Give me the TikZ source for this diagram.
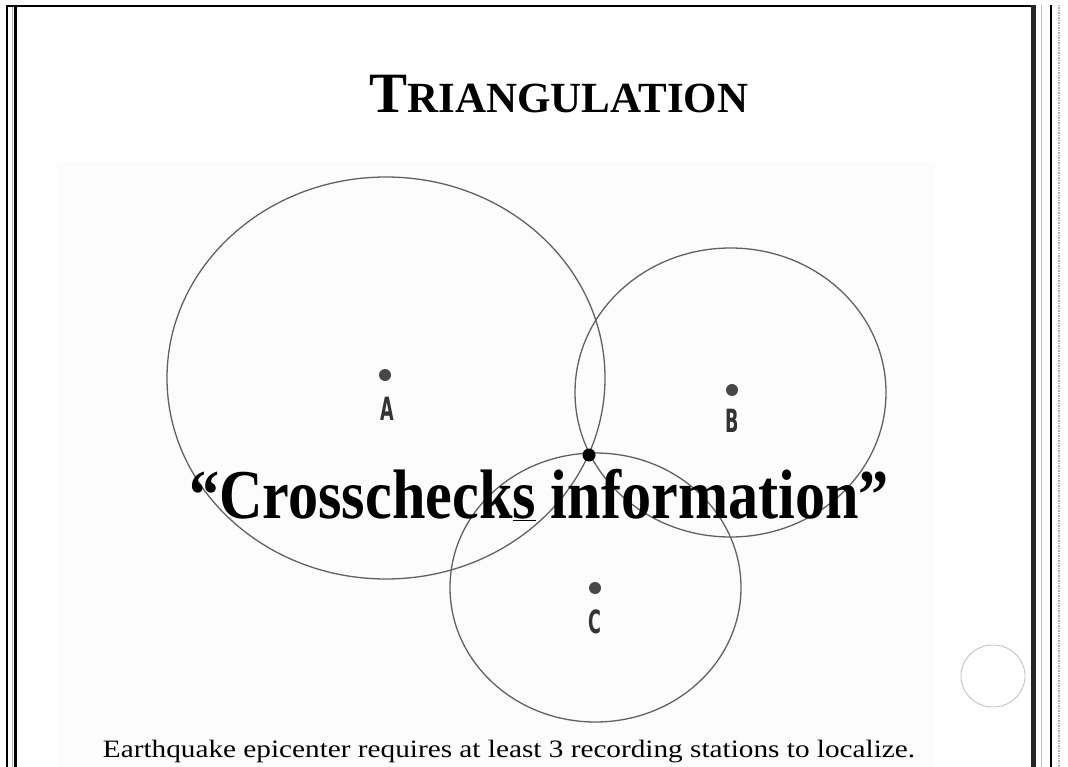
\documentclass[tikz,border=0pt]{standalone}
\usepackage{fontspec}
\setmainfont{Liberation Serif}
\newfontfamily\stationfont{DejaVu Sans}
\tikzset{
  ring/.style = {draw = black!62, line width = 1.3pt},
  station/.style = {circle, fill = black!72, inner sep = 0pt, minimum size = 12pt},
  stationlabel/.style = {font = \stationfont\bfseries\fontsize{32}{32}\selectfont, text = black!80, xscale = 0.55, inner sep = 0pt},
  epicenter/.style = {circle, fill = black, inner sep = 0pt, minimum size = 13pt}
}
\begin{document}
\begin{tikzpicture}[x = 1pt, y = -1pt]
\useasboundingbox (0,0) rectangle (1068,767);
\fill[white] (0,0) rectangle (1068,767);
% the picture behind
\fill[black!1] (57,162) rectangle (935,767);
% slide frame
\draw[line width = 2pt] (6,6) -- (1036,6);
\draw[line width = 1.6pt] (7,6) -- (7,767);
\draw[black!30, line width = 1pt] (12,7) -- (12,767);
\draw[line width = 3pt] (15.5,6) -- (15.5,767);
\draw[black!85, line width = 5pt] (1033.5,5) -- (1033.5,767);
\draw[black!25, line width = 1pt] (1041,5) -- (1041,767);
\draw[line width = 2pt] (1051,5) -- (1051,767);
\draw[black!30, line width = 1.5pt, densely dotted] (1059,5) -- (1059,767);
\draw[black!25, line width = 0.8pt] (993,676) ellipse [x radius = 32, y radius = 31];
% title
\node[anchor = base] (title) at (559,113) {\bfseries\fontsize{57}{57}\selectfont T\fontsize{43}{43}\selectfont RIANGULATION};
% distance rings
\draw[ring] (386,378) ellipse [x radius = 219, y radius = 201];
\draw[ring] (730.5,392.5) ellipse [x radius = 155.5, y radius = 144.5];
\draw[ring] (595.5,587.5) ellipse [x radius = 145.5, y radius = 134.5];
% stations
\node[station] (A) at (385,375) {};
\node[station] (B) at (732,390) {};
\node[station] (C) at (595,588) {};
\node[stationlabel] (labelA) at (387,409) {A};
\node[stationlabel] (labelB) at (732,421) {B};
\node[stationlabel] (labelC) at (595,622) {C};
\node[epicenter] (E) at (589,455) {};
% texts
\node[anchor = base, xscale = 0.86] (slogan) at (539,518) {\bfseries\fontsize{70}{70}\selectfont “Crosscheck\underline{s} information”};
\node[anchor = base, xscale = 1.17] (caption) at (509,757) {\fontsize{25}{25}\selectfont Earthquake epicenter requires at least 3 recording stations to localize.};
\end{tikzpicture}
\end{document}
